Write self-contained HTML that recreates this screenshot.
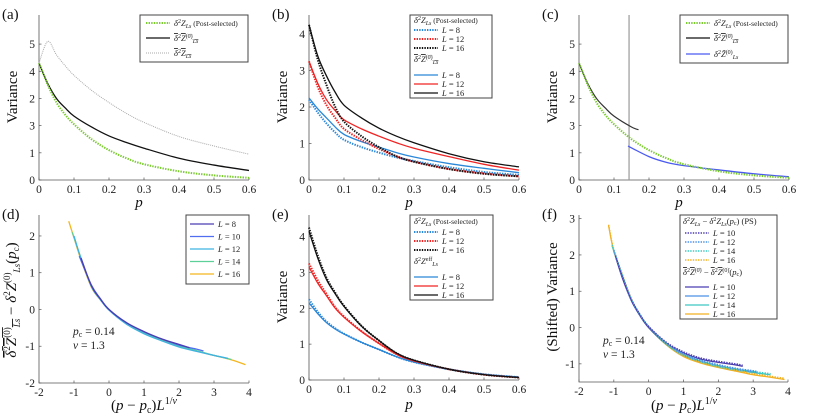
<!DOCTYPE html>
<html><head><meta charset="utf-8"><style>
html,body{margin:0;padding:0;background:#fff;}
svg{display:block;}
svg text{font-family:"Liberation Serif","DejaVu Serif",serif;}
.tk{font-size:11.5px;fill:#222;}
.lg{font-size:8.5px;fill:#222;}
.lb{font-size:15px;fill:#111;}
</style></head><body>
<svg id="fig" width="814" height="419" viewBox="0 0 814 419" xmlns="http://www.w3.org/2000/svg" font-family="Liberation Serif, serif">
<g id="base"></g>
<text class="lb" x="2" y="19">(a)</text>
<text class="lb" x="272" y="19">(b)</text>
<text class="lb" x="542" y="19">(c)</text>
<text class="lb" x="2" y="219">(d)</text>
<text class="lb" x="272" y="219">(e)</text>
<text class="lb" x="542" y="219">(f)</text>
<text class="lb" font-size="16" text-anchor="middle" transform="translate(17,97) rotate(-90)">Variance</text>
<text class="lb" font-size="16" text-anchor="middle" transform="translate(287,97) rotate(-90)">Variance</text>
<text class="lb" font-size="16" text-anchor="middle" transform="translate(557,97) rotate(-90)">Variance</text>
<text class="lb" font-size="16" text-anchor="middle" transform="translate(287,297) rotate(-90)">Variance</text>
<text class="lb" font-size="16" text-anchor="middle" transform="translate(557,297) rotate(-90)">(Shifted) Variance</text>
<text class="lb" font-size="14" text-anchor="middle" transform="translate(16,300) rotate(-90)"><tspan text-decoration="overline"><tspan font-style="italic">δ</tspan><tspan font-size="9" dy="-6">2</tspan><tspan dy="6" font-style="italic">Z</tspan><tspan font-size="9" dy="-6">(0)</tspan><tspan font-size="9" dy="10" font-style="italic">Ls</tspan></tspan><tspan dy="-4"> − </tspan><tspan font-style="italic">δ</tspan><tspan font-size="9" dy="-6">2</tspan><tspan dy="6" font-style="italic">Z</tspan><tspan font-size="9" dy="-6">(0)</tspan><tspan font-size="9" dy="10" font-style="italic">Ls</tspan><tspan dy="-4">(</tspan><tspan font-style="italic">p</tspan><tspan font-size="9" dy="3">c</tspan><tspan dy="-3">)</tspan></text>
<text class="lb" font-size="18" font-style="italic" x="139" y="207" text-anchor="middle">p</text>
<text class="lb" font-size="18" font-style="italic" x="409" y="207" text-anchor="middle">p</text>
<text class="lb" font-size="18" font-style="italic" x="679" y="207" text-anchor="middle">p</text>
<text class="lb" font-size="18" font-style="italic" x="409" y="409" text-anchor="middle">p</text>
<text class="lb" font-size="15" x="144" y="410" text-anchor="middle">(<tspan font-style="italic">p</tspan> − <tspan font-style="italic">p</tspan><tspan font-size="10" dy="3">c</tspan><tspan dy="-3">)</tspan><tspan font-style="italic">L</tspan><tspan font-size="10" dy="-6">1/<tspan font-style="italic">ν</tspan></tspan></text>
<text class="lb" font-size="15" x="684" y="410" text-anchor="middle">(<tspan font-style="italic">p</tspan> − <tspan font-style="italic">p</tspan><tspan font-size="10" dy="3">c</tspan><tspan dy="-3">)</tspan><tspan font-style="italic">L</tspan><tspan font-size="10" dy="-6">1/<tspan font-style="italic">ν</tspan></tspan></text>
<text class="tk" font-size="11" x="73" y="335"><tspan font-style="italic">p</tspan><tspan font-size="8" dy="2">c</tspan><tspan dy="-2"> = 0.14</tspan></text>
<text class="tk" font-size="11" x="73" y="349"><tspan font-style="italic">ν</tspan> = 1.3</text>
<text class="tk" font-size="11" x="603" y="344"><tspan font-style="italic">p</tspan><tspan font-size="8" dy="2">c</tspan><tspan dy="-2"> = 0.14</tspan></text>
<text class="tk" font-size="11" x="603" y="358"><tspan font-style="italic">ν</tspan> = 1.3</text>
<g id="marks"></g>
<g id="legends"></g>
</svg>
<script>
// ---------- data ----------
const pGrid = [0,0.025,0.05,0.075,0.1,0.15,0.2,0.25,0.3,0.4,0.5,0.6];
const pTicks = [0,0.1,0.2,0.3,0.4,0.5,0.6];
const pTickLabels = ['0','0.1','0.2','0.3','0.4','0.5','0.6'];
const scTicks = [-2,-1,0,1,2,3,4];
const scTickLabels = ['-2','-1','0','1','2','3','4'];
const yTicksA = [0,1,2,3,4,5];
const yTickLabelsA = ['0','1','3','2','4','5'];
const yTicksB = [0,1,2,3,4];
const yTickLabelsB = ['0','1','2','3','4'];
const yTicksD = [-2,-1,0,1,2];
const yTickLabelsD = ['-2','-1','0','1','2'];
const yTicksF = [-1,0,1,2,3];
const yTickLabelsF = ['-1','0','1','2','3'];

// (a)/(c)
const psA = [4.3,3.5,2.85,2.4,2.05,1.5,1.1,0.8,0.58,0.32,0.17,0.08];
const avgA = [4.3,3.55,3.0,2.65,2.35,1.95,1.62,1.38,1.17,0.8,0.55,0.35];
const avgZA = [4.3,5.1,4.6,4.2,3.85,3.3,2.85,2.45,2.12,1.6,1.25,0.95];
const pcLine = 0.143;
const pAvgC = [0,0.025,0.05,0.075,0.1,0.15,0.17];
const avgC = [4.3,3.55,3.0,2.65,2.35,1.95,1.85];
const pTildeC = [0.14,0.2,0.25,0.3,0.4,0.5,0.6];
const tildeC = [1.25,0.86,0.65,0.53,0.37,0.23,0.12];
// (b)
const bSolid8 = [2.25,1.95,1.7,1.45,1.25,1.05,0.9,0.75,0.63,0.45,0.32,0.2];
const bDot8 = [2.2,1.85,1.55,1.3,1.1,0.9,0.75,0.62,0.52,0.35,0.22,0.14];
const bSolid12 = [3.25,2.65,2.2,1.9,1.65,1.4,1.2,1.02,0.87,0.64,0.43,0.27];
const bDot12 = [3.25,2.55,2.05,1.7,1.4,1.1,0.85,0.65,0.5,0.3,0.18,0.1];
const bSolid16 = [4.25,3.4,2.85,2.4,2.05,1.7,1.42,1.2,1.02,0.72,0.5,0.36];
const bDot16 = [4.25,3.3,2.6,2.0,1.6,1.2,0.9,0.65,0.5,0.3,0.17,0.1];
// (e)
const eSolid8 = [2.15,1.85,1.6,1.42,1.28,1.05,0.85,0.65,0.5,0.3,0.16,0.08];
const eDot8 = [2.25,1.9,1.63,1.44,1.29,1.05,0.85,0.65,0.5,0.3,0.16,0.08];
const eSolid12 = [3.15,2.7,2.35,2.0,1.75,1.35,1.02,0.72,0.53,0.3,0.15,0.07];
const eDot12 = [3.25,2.78,2.4,2.03,1.77,1.36,1.02,0.72,0.53,0.3,0.15,0.07];
const eSolid16 = [4.15,3.4,2.8,2.4,2.05,1.5,1.1,0.75,0.55,0.3,0.15,0.07];
const eDot16 = [4.25,3.47,2.85,2.43,2.07,1.51,1.1,0.75,0.55,0.3,0.15,0.07];
// (d)
const dX8 = [-0.8,-0.5,-0.25,0,0.5,1,1.5,2,2.3];
const dY8 = [1.4,0.64,0.29,0.0,-0.36,-0.6,-0.8,-0.95,-1.04];
const dX10 = [-0.85,-0.5,-0.25,0,0.5,1,1.5,2,2.5,2.7];
const dY10 = [1.45,0.66,0.3,0.0,-0.36,-0.61,-0.8,-0.97,-1.08,-1.13];
const dX12 = [-1.0,-0.8,-0.5,-0.25,0,0.5,1,1.5,2,2.5,3,3.4];
const dY12 = [2.0,1.38,0.62,0.27,-0.02,-0.4,-0.66,-0.85,-1.02,-1.14,-1.25,-1.33];
const dX14 = [-1.05,-0.8,-0.5,-0.25,0,0.5,1,1.5,2,2.5,3,3.5];
const dY14 = [2.1,1.4,0.62,0.28,0.0,-0.38,-0.64,-0.84,-1.0,-1.12,-1.25,-1.36];
const dX16 = [-1.15,-1,-0.8,-0.5,-0.25,0,0.5,1,1.5,2,2.5,3,3.5,3.9];
const dY16 = [2.4,1.95,1.35,0.6,0.27,0.0,-0.37,-0.63,-0.83,-1.0,-1.13,-1.25,-1.37,-1.5];
// (f)
const fX10 = [-0.95,-0.75,-0.5,-0.25,0,0.5,1,1.5,2,2.5,2.7];
const fY10 = [1.95,1.35,0.75,0.33,0.0,-0.43,-0.7,-0.87,-0.96,-1.03,-1.07];
const fX12 = [-1.0,-0.75,-0.5,-0.25,0,0.5,1,1.5,2,2.5,3,3.1];
const fY12 = [2.1,1.38,0.75,0.33,0.0,-0.45,-0.75,-0.93,-1.05,-1.15,-1.22,-1.24];
const fX14 = [-1.05,-0.75,-0.5,-0.25,0,0.5,1,1.5,2,2.5,3,3.5];
const fY14 = [2.25,1.4,0.76,0.33,0.0,-0.46,-0.77,-0.95,-1.08,-1.17,-1.24,-1.3];
const fX16 = [-1.15,-1,-0.75,-0.5,-0.25,0,0.5,1,1.5,2,2.5,3,3.5,3.9];
const fY16 = [2.8,2.1,1.42,0.77,0.33,0.0,-0.47,-0.8,-0.98,-1.1,-1.2,-1.3,-1.37,-1.43];

// ---------- drawing ----------
const NS = 'http://www.w3.org/2000/svg';
const base = document.getElementById('base');
const marks = document.getElementById('marks');
const leg = document.getElementById('legends');

function mkScale(d0,d1,r0,r1){return v => r0 + (v-d0)/(d1-d0)*(r1-r0);}

const panels = {
  a:{sx:mkScale(0,0.6,39,249), sy:mkScale(0,6.07,180,15), x0:39,x1:249,yb:180,yt:15},
  b:{sx:mkScale(0,0.6,309,519), sy:mkScale(0,4.52,180,15), x0:309,x1:519,yb:180,yt:15},
  c:{sx:mkScale(0,0.6,579,789), sy:mkScale(0,6.07,180,15), x0:579,x1:789,yb:180,yt:15},
  d:{sx:mkScale(-2,4,39,249), sy:mkScale(-2,2.57,383,215), x0:39,x1:249,yb:383,yt:215},
  e:{sx:mkScale(0,0.6,309,519), sy:mkScale(0,4.6,380,215), x0:309,x1:519,yb:380,yt:215},
  f:{sx:mkScale(-2,4,579,788), sy:mkScale(-1.5,3.1,382,215), x0:579,x1:788,yb:382,yt:215}
};

function axes(key, xt, xl, yt, yl){
  const P = panels[key];
  const g = document.createElementNS(NS,'g');
  
  
  const ax = document.createElementNS(NS,'path');
  ax.setAttribute('d', `M${P.x0},${P.yt}V${P.yb}H${P.x1}`);
  ax.setAttribute('stroke','#555'); ax.setAttribute('fill','none'); ax.setAttribute('stroke-width','0.8');
  
  
  g.appendChild(ax);
  xt.forEach((v,i)=>{
    const x = P.sx(v);
    const t = document.createElementNS(NS,'line');
    t.setAttribute('x1',x);t.setAttribute('x2',x);t.setAttribute('y1',P.yb);t.setAttribute('y2',P.yb-2.5);
    t.setAttribute('stroke','#555');t.setAttribute('stroke-width','0.7');
    
    
    g.appendChild(t);
    const tx = document.createElementNS(NS,'text');
    tx.setAttribute('x',x);tx.setAttribute('y',P.yb+13);tx.setAttribute('text-anchor','middle');tx.setAttribute('class','tk');
    tx.textContent = xl[i];
    
    
    g.appendChild(tx);
  });
  yt.forEach((v,i)=>{
    const y = P.sy(v);
    const t = document.createElementNS(NS,'line');
    t.setAttribute('x1',P.x0);t.setAttribute('x2',P.x0+2.5);t.setAttribute('y1',y);t.setAttribute('y2',y);
    t.setAttribute('stroke','#555');t.setAttribute('stroke-width','0.7');
    
    
    g.appendChild(t);
    const tx = document.createElementNS(NS,'text');
    tx.setAttribute('x',P.x0-4);tx.setAttribute('y',y+4);tx.setAttribute('text-anchor','end');tx.setAttribute('class','tk');
    tx.textContent = yl[i];
    
    
    g.appendChild(tx);
  });
  base.appendChild(g);
}

// smooth path (Catmull-Rom -> cubic Bezier)
function smoothPath(pts){
  let d = 'M'+pts[0][0].toFixed(2)+','+pts[0][1].toFixed(2);
  for (let i=0;i<pts.length-1;i++){
    const p0 = pts[i-1]||pts[i], p1=pts[i], p2=pts[i+1], p3=pts[i+2]||p2;
    const c1x = p1[0]+(p2[0]-p0[0])/6, c1y = p1[1]+(p2[1]-p0[1])/6;
    const c2x = p2[0]-(p3[0]-p1[0])/6, c2y = p2[1]-(p3[1]-p1[1])/6;
    d += 'C'+c1x.toFixed(2)+','+c1y.toFixed(2)+' '+c2x.toFixed(2)+','+c2y.toFixed(2)+' '+p2[0].toFixed(2)+','+p2[1].toFixed(2);
  }
  return d;
}

function series(key, xs, ys, color, width, dash, name, opacity){
  const P = panels[key];
  const pts = xs.map((x,i)=>[P.sx(x), P.sy(ys[i])]);
  const el = document.createElementNS(NS,'path');
  el.setAttribute('d', smoothPath(pts));
  el.setAttribute('fill','none');
  el.setAttribute('stroke', color);
  el.setAttribute('stroke-width', width);
  el.setAttribute('stroke-linejoin','round');
  if (dash) el.setAttribute('stroke-dasharray', dash);
  if (opacity) el.setAttribute('opacity', opacity);
  
  
  marks.appendChild(el);
}

axes('a', pTicks, pTickLabels, yTicksA, yTickLabelsA);
axes('b', pTicks, pTickLabels, yTicksB, yTickLabelsB);
axes('c', pTicks, pTickLabels, yTicksA, yTickLabelsA);
axes('d', scTicks, scTickLabels, yTicksD, yTickLabelsD);
axes('e', pTicks, pTickLabels, yTicksB, yTickLabelsB);
axes('f', scTicks, scTickLabels, yTicksF, yTickLabelsF);

const GREEN='#7acc2e', BLUE='#2b88d8', RED='#f02424', BLACK='#111', GRAY='#aaa';
const DOT='1.4 1.2';

series('a', pGrid, avgZA, GRAY, 1, '1 1', 'line-avg-z-a');
series('a', pGrid, avgA, BLACK, 1.3, null, 'line-avg-z0-a');
series('a', pGrid, psA, GREEN, 2, DOT, 'line-post-selected-a');

series('b', pGrid, bSolid8, BLUE, 1.3, null, 'line-avg-l8-b');
series('b', pGrid, bSolid12, RED, 1.3, null, 'line-avg-l12-b');
series('b', pGrid, bSolid16, BLACK, 1.3, null, 'line-avg-l16-b');
series('b', pGrid, bDot8, BLUE, 2, DOT, 'line-ps-l8-b');
series('b', pGrid, bDot12, RED, 2, DOT, 'line-ps-l12-b');
series('b', pGrid, bDot16, BLACK, 2, DOT, 'line-ps-l16-b');

(function(){
  const P = panels.c;
  const el = document.createElementNS(NS,'line');
  el.setAttribute('x1',P.sx(pcLine));el.setAttribute('x2',P.sx(pcLine));
  el.setAttribute('y1',P.yt);el.setAttribute('y2',P.yb);
  el.setAttribute('stroke','#999');el.setAttribute('stroke-width','1.2');
  
  
  marks.appendChild(el);
})();
series('c', pAvgC, avgC, '#333', 1.2, null, 'line-avg-z0-c');
series('c', pTildeC, tildeC, '#4a5af0', 1.3, null, 'line-avg-ztilde-c');
series('c', pGrid, psA, GREEN, 2, DOT, 'line-post-selected-c');

const DC = ['#4b3db0','#4f6ef0','#3fb2e2','#5dcf98','#f3b61e'];
series('d', dX16, dY16, DC[4], 1.3, null, 'line-l16-d');
series('d', dX14, dY14, DC[3], 1.3, null, 'line-l14-d');
series('d', dX12, dY12, DC[2], 1.3, null, 'line-l12-d');
series('d', dX10, dY10, DC[1], 1.3, null, 'line-l10-d');
series('d', dX8, dY8, DC[0], 1.3, null, 'line-l8-d');

series('e', pGrid, eDot8, BLUE, 2, DOT, 'line-ps-l8-e');
series('e', pGrid, eDot12, RED, 2, DOT, 'line-ps-l12-e');
series('e', pGrid, eDot16, BLACK, 2, DOT, 'line-ps-l16-e');
series('e', pGrid, eSolid8, BLUE, 1.3, null, 'line-eff-l8-e');
series('e', pGrid, eSolid12, RED, 1.3, null, 'line-eff-l12-e');
series('e', pGrid, eSolid16, BLACK, 1.3, null, 'line-eff-l16-e');

const FC = ['#4b3db0','#4a90e8','#3cc8c0','#f3b020'];
series('f', fX16, fY16, FC[3], 1.3, null, 'line-avg-l16-f');
series('f', fX14, fY14, FC[2], 1.3, null, 'line-avg-l14-f');
series('f', fX12, fY12, FC[1], 1.3, null, 'line-avg-l12-f');
series('f', fX10, fY10, FC[0], 1.3, null, 'line-avg-l10-f');
series('f', fX16, fY16.map(v=>v+0.03), FC[3], 1.4, DOT, 'line-ps-l16-f');
series('f', fX14, fY14.map(v=>v+0.03), FC[2], 1.4, DOT, 'line-ps-l14-f');
series('f', fX12, fY12.map(v=>v+0.03), FC[1], 1.4, DOT, 'line-ps-l12-f');
series('f', fX10, fY10.map(v=>v+0.03), FC[0], 1.4, DOT, 'line-ps-l10-f');

// ---------- legends ----------
function box(x,y,w,h,name){
  const r = document.createElementNS(NS,'rect');
  r.setAttribute('x',x);r.setAttribute('y',y);r.setAttribute('width',w);r.setAttribute('height',h);
  r.setAttribute('fill','#fff');r.setAttribute('stroke','#444');r.setAttribute('stroke-width','1');
  
  
  leg.appendChild(r);
}
function entry(x,y,color,dash,width,label,name){
  const l = document.createElementNS(NS,'line');
  l.setAttribute('x1',x);l.setAttribute('x2',x+24);l.setAttribute('y1',y);l.setAttribute('y2',y);
  l.setAttribute('stroke',color);l.setAttribute('stroke-width',width);
  if (dash) l.setAttribute('stroke-dasharray',dash);
  
  
  leg.appendChild(l);
  if (label) txt(x+28,y+3,label,name);
}
function txt(x,y,html,name){
  const t = document.createElementNS(NS,'text');
  t.setAttribute('x',x);t.setAttribute('y',y);t.setAttribute('class','lg');
  t.innerHTML = html;
  
  
  leg.appendChild(t);
}
const ZPS = '<tspan font-style="italic">δ</tspan><tspan font-size="6" dy="-3">2</tspan><tspan font-style="italic" dy="3">Z</tspan><tspan font-size="6" dy="2" font-style="italic">Ls</tspan><tspan dy="-2" font-size="7.5"> (Post-selected)</tspan>';
const Z0 = '<tspan text-decoration="overline"><tspan font-style="italic">δ</tspan><tspan font-size="6" dy="-3">2</tspan><tspan font-style="italic" dy="3">Z</tspan><tspan font-size="6" dy="-3">(0)</tspan><tspan font-size="6" dy="5" font-style="italic">Ls</tspan></tspan>';
const ZB = '<tspan text-decoration="overline"><tspan font-style="italic">δ</tspan><tspan font-size="6" dy="-3">2</tspan><tspan font-style="italic" dy="3">Z</tspan><tspan font-size="6" dy="2" font-style="italic">Ls</tspan></tspan>';
const ZT = '<tspan font-style="italic">δ</tspan><tspan font-size="6" dy="-3">2</tspan><tspan font-style="italic" dy="3">Z̃</tspan><tspan font-size="6" dy="-3">(0)</tspan><tspan font-size="6" dy="5" font-style="italic">Ls</tspan>';
const ZEFF = '<tspan font-style="italic">δ</tspan><tspan font-size="6" dy="-3">2</tspan><tspan font-style="italic" dy="3">Z</tspan><tspan font-size="6" dy="-3">eff</tspan><tspan font-size="6" dy="5" font-style="italic">Ls</tspan>';
const L = n => '<tspan font-style="italic">L</tspan> = ' + n;

box(140,15,108,47,'legend-a');
entry(146,23,GREEN,DOT,2,ZPS,'legend-entry-post-selected-a');
entry(146,38,BLACK,null,1.3,Z0,'legend-entry-avg-z0-a');
entry(146,53,GRAY,'1 1',1,ZB,'legend-entry-avg-z-a');

box(410,15,82,83,'legend-b');
txt(414,23,ZPS,'legend-heading-ps-b');
entry(414,30,BLUE,DOT,2,L(8),'legend-entry-ps-l8-b');
entry(414,39,RED,DOT,2,L(12),'legend-entry-ps-l12-b');
entry(414,48,BLACK,DOT,2,L(16),'legend-entry-ps-l16-b');
txt(414,62,Z0,'legend-heading-avg-b');
entry(414,75,BLUE,null,1.3,L(8),'legend-entry-avg-l8-b');
entry(414,84,RED,null,1.3,L(12),'legend-entry-avg-l12-b');
entry(414,93,BLACK,null,1.3,L(16),'legend-entry-avg-l16-b');

box(680,15,108,48,'legend-c');
entry(686,23,GREEN,DOT,2,ZPS,'legend-entry-post-selected-c');
entry(686,38,BLACK,null,1.3,Z0,'legend-entry-avg-z0-c');
entry(686,54,'#4a5af0',null,1.3,ZT,'legend-entry-ztilde-c');

box(186,215,63,69,'legend-d');
const dLab=[8,10,12,14,16];
dLab.forEach((n,i)=>entry(190,224+i*12.5,DC[i],null,1.3,L(n),'legend-entry-l'+n+'-d'));

box(410,215,83,85,'legend-e');
txt(414,224,ZPS,'legend-heading-ps-e');
entry(414,232,BLUE,DOT,2,L(8),'legend-entry-ps-l8-e');
entry(414,241,RED,DOT,2,L(12),'legend-entry-ps-l12-e');
entry(414,250,BLACK,DOT,2,L(16),'legend-entry-ps-l16-e');
txt(414,264,ZEFF,'legend-heading-eff-e');
entry(414,277,BLUE,null,1.3,L(8),'legend-entry-eff-l8-e');
entry(414,286,RED,null,1.3,L(12),'legend-entry-eff-l12-e');
entry(414,295,BLACK,null,1.3,L(16),'legend-entry-eff-l16-e');

box(680,215,97,104,'legend-f');
txt(683,224,'<tspan font-style="italic">δ</tspan><tspan font-size="6" dy="-3">2</tspan><tspan font-style="italic" dy="3">Z</tspan><tspan font-size="6" dy="2" font-style="italic">Ls</tspan><tspan dy="-2"> − </tspan><tspan font-style="italic">δ</tspan><tspan font-size="6" dy="-3">2</tspan><tspan font-style="italic" dy="3">Z</tspan><tspan font-size="6" dy="2" font-style="italic">Ls</tspan><tspan dy="-2">(</tspan><tspan font-style="italic">p</tspan><tspan font-size="6" dy="1">c</tspan><tspan dy="-1">) (PS)</tspan>','legend-heading-ps-f');
const fLab=[10,12,14,16];
fLab.forEach((n,i)=>entry(685,233+i*9,FC[i],DOT,1.4,L(n),'legend-entry-ps-l'+n+'-f'));
txt(683,275,'<tspan text-decoration="overline"><tspan font-style="italic">δ</tspan><tspan font-size="6" dy="-3">2</tspan><tspan font-style="italic" dy="3">Z</tspan><tspan font-size="6" dy="-3">(0)</tspan></tspan><tspan dy="3"> − </tspan><tspan text-decoration="overline"><tspan font-style="italic">δ</tspan><tspan font-size="6" dy="-3">2</tspan><tspan font-style="italic" dy="3">Z</tspan><tspan font-size="6" dy="-3">(0)</tspan></tspan><tspan dy="3">(</tspan><tspan font-style="italic">p</tspan><tspan font-size="6" dy="1">c</tspan><tspan dy="-1">)</tspan>','legend-heading-avg-f');
fLab.forEach((n,i)=>entry(685,287+i*9,FC[i],null,1.3,L(n),'legend-entry-avg-l'+n+'-f'));
</script>
</body></html>
